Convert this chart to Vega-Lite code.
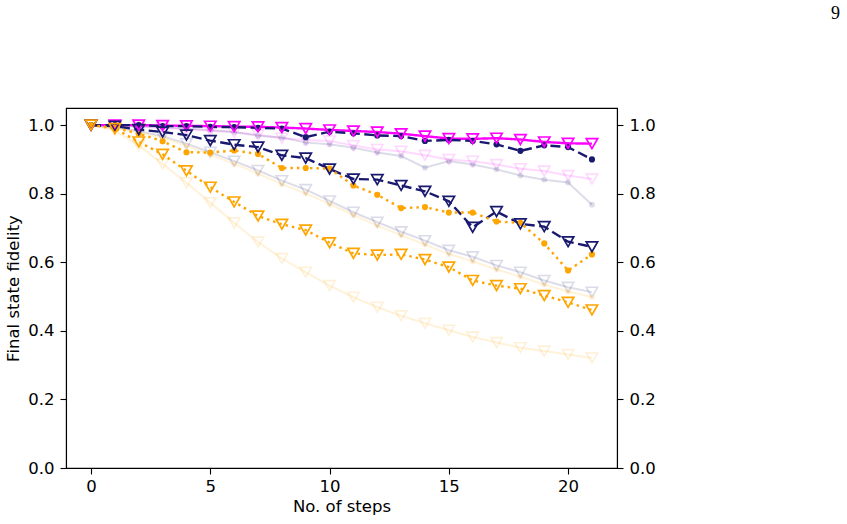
{
  "$schema": "https://vega.github.io/schema/vega-lite/v6.json",
  "autosize": {"type": "none"},
  "width": 551,
  "height": 360,
  "padding": {"left": 66, "top": 108, "right": 230, "bottom": 56},
  "background": "white",
  "title": {
    "text": "9",
    "anchor": "end",
    "frame": "group",
    "orient": "top",
    "baseline": "alphabetic",
    "dx": 223,
    "offset": 71,
    "font": "Liberation Serif",
    "fontSize": 18,
    "fontWeight": "normal",
    "color": "black"
  },
  "config": {
    "view": {"stroke": "black", "strokeWidth": 1.1},
    "axis": {
      "domainColor": "black",
      "domainWidth": 1.1,
      "tickColor": "black",
      "tickWidth": 1.1,
      "tickSize": 6,
      "grid": false
    }
  },
  "data": {
    "values": [
      {"series": "S1-tri", "step": 0, "fidelity": 1.0}, {"series": "S1-tri", "step": 1, "fidelity": 1.0}, {"series": "S1-tri", "step": 2, "fidelity": 1.0}, {"series": "S1-tri", "step": 3, "fidelity": 0.999}, {"series": "S1-tri", "step": 4, "fidelity": 0.998}, {"series": "S1-tri", "step": 5, "fidelity": 0.997}, {"series": "S1-tri", "step": 6, "fidelity": 0.996}, {"series": "S1-tri", "step": 7, "fidelity": 0.995}, {"series": "S1-tri", "step": 8, "fidelity": 0.993}, {"series": "S1-tri", "step": 9, "fidelity": 0.99}, {"series": "S1-tri", "step": 10, "fidelity": 0.986}, {"series": "S1-tri", "step": 11, "fidelity": 0.983}, {"series": "S1-tri", "step": 12, "fidelity": 0.98}, {"series": "S1-tri", "step": 13, "fidelity": 0.975}, {"series": "S1-tri", "step": 14, "fidelity": 0.968}, {"series": "S1-tri", "step": 15, "fidelity": 0.961}, {"series": "S1-tri", "step": 16, "fidelity": 0.96}, {"series": "S1-tri", "step": 17, "fidelity": 0.962}, {"series": "S1-tri", "step": 18, "fidelity": 0.958}, {"series": "S1-tri", "step": 19, "fidelity": 0.951}, {"series": "S1-tri", "step": 20, "fidelity": 0.947}, {"series": "S1-tri", "step": 21, "fidelity": 0.946},

      {"series": "S2-circ", "step": 0, "fidelity": 1.0}, {"series": "S2-circ", "step": 1, "fidelity": 1.0}, {"series": "S2-circ", "step": 2, "fidelity": 1.0}, {"series": "S2-circ", "step": 3, "fidelity": 0.997}, {"series": "S2-circ", "step": 4, "fidelity": 0.997}, {"series": "S2-circ", "step": 5, "fidelity": 0.995}, {"series": "S2-circ", "step": 6, "fidelity": 0.994}, {"series": "S2-circ", "step": 7, "fidelity": 0.992}, {"series": "S2-circ", "step": 8, "fidelity": 0.99}, {"series": "S2-circ", "step": 9, "fidelity": 0.965}, {"series": "S2-circ", "step": 10, "fidelity": 0.981}, {"series": "S2-circ", "step": 11, "fidelity": 0.976}, {"series": "S2-circ", "step": 12, "fidelity": 0.97}, {"series": "S2-circ", "step": 13, "fidelity": 0.968}, {"series": "S2-circ", "step": 14, "fidelity": 0.954}, {"series": "S2-circ", "step": 15, "fidelity": 0.957}, {"series": "S2-circ", "step": 16, "fidelity": 0.954}, {"series": "S2-circ", "step": 17, "fidelity": 0.944}, {"series": "S2-circ", "step": 18, "fidelity": 0.925}, {"series": "S2-circ", "step": 19, "fidelity": 0.941}, {"series": "S2-circ", "step": 20, "fidelity": 0.936}, {"series": "S2-circ", "step": 21, "fidelity": 0.9},

      {"series": "S2-tri", "step": 0, "fidelity": 1.0}, {"series": "S2-tri", "step": 1, "fidelity": 0.997}, {"series": "S2-tri", "step": 2, "fidelity": 0.987}, {"series": "S2-tri", "step": 3, "fidelity": 0.98}, {"series": "S2-tri", "step": 4, "fidelity": 0.971}, {"series": "S2-tri", "step": 5, "fidelity": 0.955}, {"series": "S2-tri", "step": 6, "fidelity": 0.943}, {"series": "S2-tri", "step": 7, "fidelity": 0.936}, {"series": "S2-tri", "step": 8, "fidelity": 0.912}, {"series": "S2-tri", "step": 9, "fidelity": 0.904}, {"series": "S2-tri", "step": 10, "fidelity": 0.872}, {"series": "S2-tri", "step": 11, "fidelity": 0.843}, {"series": "S2-tri", "step": 12, "fidelity": 0.841}, {"series": "S2-tri", "step": 13, "fidelity": 0.824}, {"series": "S2-tri", "step": 14, "fidelity": 0.807}, {"series": "S2-tri", "step": 15, "fidelity": 0.778}, {"series": "S2-tri", "step": 16, "fidelity": 0.702}, {"series": "S2-tri", "step": 17, "fidelity": 0.748}, {"series": "S2-tri", "step": 18, "fidelity": 0.712}, {"series": "S2-tri", "step": 19, "fidelity": 0.704}, {"series": "S2-tri", "step": 20, "fidelity": 0.66}, {"series": "S2-tri", "step": 21, "fidelity": 0.645},

      {"series": "S3-circ", "step": 0, "fidelity": 1.0}, {"series": "S3-circ", "step": 1, "fidelity": 0.992}, {"series": "S3-circ", "step": 2, "fidelity": 0.975}, {"series": "S3-circ", "step": 3, "fidelity": 0.953}, {"series": "S3-circ", "step": 4, "fidelity": 0.921}, {"series": "S3-circ", "step": 5, "fidelity": 0.92}, {"series": "S3-circ", "step": 6, "fidelity": 0.926}, {"series": "S3-circ", "step": 7, "fidelity": 0.916}, {"series": "S3-circ", "step": 8, "fidelity": 0.875}, {"series": "S3-circ", "step": 9, "fidelity": 0.875}, {"series": "S3-circ", "step": 10, "fidelity": 0.873}, {"series": "S3-circ", "step": 11, "fidelity": 0.824}, {"series": "S3-circ", "step": 12, "fidelity": 0.797}, {"series": "S3-circ", "step": 13, "fidelity": 0.758}, {"series": "S3-circ", "step": 14, "fidelity": 0.761}, {"series": "S3-circ", "step": 15, "fidelity": 0.745}, {"series": "S3-circ", "step": 16, "fidelity": 0.745}, {"series": "S3-circ", "step": 17, "fidelity": 0.719}, {"series": "S3-circ", "step": 18, "fidelity": 0.715}, {"series": "S3-circ", "step": 19, "fidelity": 0.655}, {"series": "S3-circ", "step": 20, "fidelity": 0.576}, {"series": "S3-circ", "step": 21, "fidelity": 0.623},

      {"series": "S3-tri", "step": 0, "fidelity": 1.0}, {"series": "S3-tri", "step": 1, "fidelity": 0.99}, {"series": "S3-tri", "step": 2, "fidelity": 0.951}, {"series": "S3-tri", "step": 3, "fidelity": 0.915}, {"series": "S3-tri", "step": 4, "fidelity": 0.867}, {"series": "S3-tri", "step": 5, "fidelity": 0.819}, {"series": "S3-tri", "step": 6, "fidelity": 0.776}, {"series": "S3-tri", "step": 7, "fidelity": 0.735}, {"series": "S3-tri", "step": 8, "fidelity": 0.711}, {"series": "S3-tri", "step": 9, "fidelity": 0.694}, {"series": "S3-tri", "step": 10, "fidelity": 0.657}, {"series": "S3-tri", "step": 11, "fidelity": 0.626}, {"series": "S3-tri", "step": 12, "fidelity": 0.621}, {"series": "S3-tri", "step": 13, "fidelity": 0.623}, {"series": "S3-tri", "step": 14, "fidelity": 0.608}, {"series": "S3-tri", "step": 15, "fidelity": 0.586}, {"series": "S3-tri", "step": 16, "fidelity": 0.547}, {"series": "S3-tri", "step": 17, "fidelity": 0.532}, {"series": "S3-tri", "step": 18, "fidelity": 0.523}, {"series": "S3-tri", "step": 19, "fidelity": 0.503}, {"series": "S3-tri", "step": 20, "fidelity": 0.483}, {"series": "S3-tri", "step": 21, "fidelity": 0.461},

      {"series": "S1-tri-ref", "step": 0, "fidelity": 1.0}, {"series": "S1-tri-ref", "step": 1, "fidelity": 0.998}, {"series": "S1-tri-ref", "step": 2, "fidelity": 0.995}, {"series": "S1-tri-ref", "step": 3, "fidelity": 0.992}, {"series": "S1-tri-ref", "step": 4, "fidelity": 0.988}, {"series": "S1-tri-ref", "step": 5, "fidelity": 0.984}, {"series": "S1-tri-ref", "step": 6, "fidelity": 0.979}, {"series": "S1-tri-ref", "step": 7, "fidelity": 0.972}, {"series": "S1-tri-ref", "step": 8, "fidelity": 0.962}, {"series": "S1-tri-ref", "step": 9, "fidelity": 0.957}, {"series": "S1-tri-ref", "step": 10, "fidelity": 0.954}, {"series": "S1-tri-ref", "step": 11, "fidelity": 0.941}, {"series": "S1-tri-ref", "step": 12, "fidelity": 0.929}, {"series": "S1-tri-ref", "step": 13, "fidelity": 0.924}, {"series": "S1-tri-ref", "step": 14, "fidelity": 0.912}, {"series": "S1-tri-ref", "step": 15, "fidelity": 0.9}, {"series": "S1-tri-ref", "step": 16, "fidelity": 0.895}, {"series": "S1-tri-ref", "step": 17, "fidelity": 0.885}, {"series": "S1-tri-ref", "step": 18, "fidelity": 0.873}, {"series": "S1-tri-ref", "step": 19, "fidelity": 0.866}, {"series": "S1-tri-ref", "step": 20, "fidelity": 0.853}, {"series": "S1-tri-ref", "step": 21, "fidelity": 0.843},

      {"series": "S2-circ-ref", "step": 0, "fidelity": 1.0}, {"series": "S2-circ-ref", "step": 1, "fidelity": 0.999}, {"series": "S2-circ-ref", "step": 2, "fidelity": 0.997}, {"series": "S2-circ-ref", "step": 3, "fidelity": 0.994}, {"series": "S2-circ-ref", "step": 4, "fidelity": 0.99}, {"series": "S2-circ-ref", "step": 5, "fidelity": 0.986}, {"series": "S2-circ-ref", "step": 6, "fidelity": 0.98}, {"series": "S2-circ-ref", "step": 7, "fidelity": 0.969}, {"series": "S2-circ-ref", "step": 8, "fidelity": 0.964}, {"series": "S2-circ-ref", "step": 9, "fidelity": 0.949}, {"series": "S2-circ-ref", "step": 10, "fidelity": 0.944}, {"series": "S2-circ-ref", "step": 11, "fidelity": 0.934}, {"series": "S2-circ-ref", "step": 12, "fidelity": 0.92}, {"series": "S2-circ-ref", "step": 13, "fidelity": 0.91}, {"series": "S2-circ-ref", "step": 14, "fidelity": 0.876}, {"series": "S2-circ-ref", "step": 15, "fidelity": 0.895}, {"series": "S2-circ-ref", "step": 16, "fidelity": 0.885}, {"series": "S2-circ-ref", "step": 17, "fidelity": 0.871}, {"series": "S2-circ-ref", "step": 18, "fidelity": 0.853}, {"series": "S2-circ-ref", "step": 19, "fidelity": 0.841}, {"series": "S2-circ-ref", "step": 20, "fidelity": 0.833}, {"series": "S2-circ-ref", "step": 21, "fidelity": 0.768},

      {"series": "S2-tri-ref", "step": 0, "fidelity": 1.0}, {"series": "S2-tri-ref", "step": 1, "fidelity": 0.993}, {"series": "S2-tri-ref", "step": 2, "fidelity": 0.983}, {"series": "S2-tri-ref", "step": 3, "fidelity": 0.968}, {"series": "S2-tri-ref", "step": 4, "fidelity": 0.946}, {"series": "S2-tri-ref", "step": 5, "fidelity": 0.921}, {"series": "S2-tri-ref", "step": 6, "fidelity": 0.895}, {"series": "S2-tri-ref", "step": 7, "fidelity": 0.868}, {"series": "S2-tri-ref", "step": 8, "fidelity": 0.838}, {"series": "S2-tri-ref", "step": 9, "fidelity": 0.812}, {"series": "S2-tri-ref", "step": 10, "fidelity": 0.779}, {"series": "S2-tri-ref", "step": 11, "fidelity": 0.746}, {"series": "S2-tri-ref", "step": 12, "fidelity": 0.717}, {"series": "S2-tri-ref", "step": 13, "fidelity": 0.689}, {"series": "S2-tri-ref", "step": 14, "fidelity": 0.663}, {"series": "S2-tri-ref", "step": 15, "fidelity": 0.635}, {"series": "S2-tri-ref", "step": 16, "fidelity": 0.616}, {"series": "S2-tri-ref", "step": 17, "fidelity": 0.591}, {"series": "S2-tri-ref", "step": 18, "fidelity": 0.571}, {"series": "S2-tri-ref", "step": 19, "fidelity": 0.547}, {"series": "S2-tri-ref", "step": 20, "fidelity": 0.527}, {"series": "S2-tri-ref", "step": 21, "fidelity": 0.513},

      {"series": "S3-circ-ref", "step": 0, "fidelity": 1.0}, {"series": "S3-circ-ref", "step": 1, "fidelity": 0.992}, {"series": "S3-circ-ref", "step": 2, "fidelity": 0.98}, {"series": "S3-circ-ref", "step": 3, "fidelity": 0.963}, {"series": "S3-circ-ref", "step": 4, "fidelity": 0.94}, {"series": "S3-circ-ref", "step": 5, "fidelity": 0.914}, {"series": "S3-circ-ref", "step": 6, "fidelity": 0.887}, {"series": "S3-circ-ref", "step": 7, "fidelity": 0.859}, {"series": "S3-circ-ref", "step": 8, "fidelity": 0.828}, {"series": "S3-circ-ref", "step": 9, "fidelity": 0.801}, {"series": "S3-circ-ref", "step": 10, "fidelity": 0.77}, {"series": "S3-circ-ref", "step": 11, "fidelity": 0.738}, {"series": "S3-circ-ref", "step": 12, "fidelity": 0.707}, {"series": "S3-circ-ref", "step": 13, "fidelity": 0.679}, {"series": "S3-circ-ref", "step": 14, "fidelity": 0.652}, {"series": "S3-circ-ref", "step": 15, "fidelity": 0.624}, {"series": "S3-circ-ref", "step": 16, "fidelity": 0.603}, {"series": "S3-circ-ref", "step": 17, "fidelity": 0.579}, {"series": "S3-circ-ref", "step": 18, "fidelity": 0.558}, {"series": "S3-circ-ref", "step": 19, "fidelity": 0.535}, {"series": "S3-circ-ref", "step": 20, "fidelity": 0.515}, {"series": "S3-circ-ref", "step": 21, "fidelity": 0.499},

      {"series": "S3-tri-ref", "step": 0, "fidelity": 1.0}, {"series": "S3-tri-ref", "step": 1, "fidelity": 0.984}, {"series": "S3-tri-ref", "step": 2, "fidelity": 0.941}, {"series": "S3-tri-ref", "step": 3, "fidelity": 0.887}, {"series": "S3-tri-ref", "step": 4, "fidelity": 0.832}, {"series": "S3-tri-ref", "step": 5, "fidelity": 0.774}, {"series": "S3-tri-ref", "step": 6, "fidelity": 0.715}, {"series": "S3-tri-ref", "step": 7, "fidelity": 0.659}, {"series": "S3-tri-ref", "step": 8, "fidelity": 0.611}, {"series": "S3-tri-ref", "step": 9, "fidelity": 0.571}, {"series": "S3-tri-ref", "step": 10, "fidelity": 0.532}, {"series": "S3-tri-ref", "step": 11, "fidelity": 0.498}, {"series": "S3-tri-ref", "step": 12, "fidelity": 0.469}, {"series": "S3-tri-ref", "step": 13, "fidelity": 0.444}, {"series": "S3-tri-ref", "step": 14, "fidelity": 0.422}, {"series": "S3-tri-ref", "step": 15, "fidelity": 0.402}, {"series": "S3-tri-ref", "step": 16, "fidelity": 0.382}, {"series": "S3-tri-ref", "step": 17, "fidelity": 0.366}, {"series": "S3-tri-ref", "step": 18, "fidelity": 0.351}, {"series": "S3-tri-ref", "step": 19, "fidelity": 0.341}, {"series": "S3-tri-ref", "step": 20, "fidelity": 0.331}, {"series": "S3-tri-ref", "step": 21, "fidelity": 0.321}
    ]
  },
  "encoding": {
    "x": {
      "field": "step",
      "type": "quantitative",
      "scale": {"domain": [-1.05, 22.05], "nice": false, "zero": false},
      "axis": {
        "title": "No. of steps",
        "values": [0, 5, 10, 15, 20],
        "format": "d",
        "labelPadding": 4,
        "titlePadding": 4,
        "labelFont": "DejaVu Sans",
        "labelFontSize": 16.5,
        "labelColor": "black",
        "titleFont": "DejaVu Sans",
        "titleFontSize": 16.5,
        "titleFontWeight": "normal",
        "titleColor": "black"
      }
    },
    "y": {
      "field": "fidelity",
      "type": "quantitative",
      "scale": {"domain": [0, 1.05], "nice": false, "zero": false},
      "axis": null
    },
    "color": {
      "field": "series",
      "type": "nominal",
      "legend": null,
      "scale": {
        "domain": ["S1-tri", "S2-circ", "S2-tri", "S3-circ", "S3-tri", "S1-tri-ref", "S2-circ-ref", "S2-tri-ref", "S3-circ-ref", "S3-tri-ref"],
        "range": ["#ff00ff", "#191970", "#191970", "#ffa500", "#ffa500", "#ff00ff", "#191970", "#191970", "#ffa500", "#ffa500"]
      }
    }
  },
  "layer": [
    {
      "transform": [{"filter": {"field": "series", "oneOf": ["S1-tri-ref", "S2-circ-ref", "S2-tri-ref", "S3-circ-ref", "S3-tri-ref"]}}],
      "mark": {"type": "line", "strokeWidth": 2, "opacity": 0.15},
      "encoding": {
        "y": {
          "field": "fidelity",
          "type": "quantitative",
          "scale": {"domain": [0, 1.05], "nice": false, "zero": false},
          "axis": {
            "orient": "left",
            "title": "Final state fidelity",
            "values": [0, 0.2, 0.4, 0.6, 0.8, 1.0],
            "format": ".1f",
            "labelPadding": 6,
            "titlePadding": 6,
            "labelFont": "DejaVu Sans",
            "labelFontSize": 16.5,
            "labelColor": "black",
            "titleFont": "DejaVu Sans",
            "titleFontSize": 16.5,
            "titleFontWeight": "normal",
            "titleColor": "black"
          }
        }
      }
    },
    {
      "transform": [{"filter": {"field": "series", "oneOf": ["S1-tri-ref", "S2-tri-ref", "S3-tri-ref"]}}],
      "mark": {"type": "point", "shape": "triangle-down", "filled": false, "size": 130, "strokeWidth": 1.6, "opacity": 0.15},
      "encoding": {
        "y": {
          "field": "fidelity",
          "type": "quantitative",
          "scale": {"domain": [0, 1.05], "nice": false, "zero": false},
          "axis": {
            "orient": "right",
            "title": null,
            "values": [0, 0.2, 0.4, 0.6, 0.8, 1.0],
            "format": ".1f",
            "labelPadding": 6,
            "labelFont": "DejaVu Sans",
            "labelFontSize": 16.5,
            "labelColor": "black"
          }
        }
      }
    },
    {
      "transform": [{"filter": {"field": "series", "oneOf": ["S2-circ-ref", "S3-circ-ref"]}}],
      "mark": {"type": "point", "shape": "circle", "filled": true, "size": 34, "opacity": 0.15}
    },
    {
      "transform": [{"filter": {"field": "series", "oneOf": ["S1-tri", "S2-circ", "S2-tri", "S3-circ", "S3-tri"]}}],
      "mark": {"type": "line", "strokeWidth": 2.4},
      "encoding": {
        "strokeDash": {
          "field": "series",
          "type": "nominal",
          "legend": null,
          "scale": {
            "domain": ["S1-tri", "S2-circ", "S2-tri", "S3-circ", "S3-tri"],
            "range": [[1, 0], [10, 4.5], [10, 4.5], [2.5, 4], [2.5, 4]]
          }
        }
      }
    },
    {
      "transform": [{"filter": {"field": "series", "oneOf": ["S2-circ", "S3-circ"]}}],
      "mark": {"type": "point", "shape": "circle", "filled": true, "size": 38, "opacity": 1}
    },
    {
      "transform": [{"filter": {"field": "series", "oneOf": ["S1-tri", "S2-tri", "S3-tri"]}}],
      "mark": {"type": "point", "shape": "triangle-down", "filled": false, "size": 130, "strokeWidth": 1.7, "opacity": 1}
    }
  ],
  "resolve": {"axis": {"y": "independent"}}
}
